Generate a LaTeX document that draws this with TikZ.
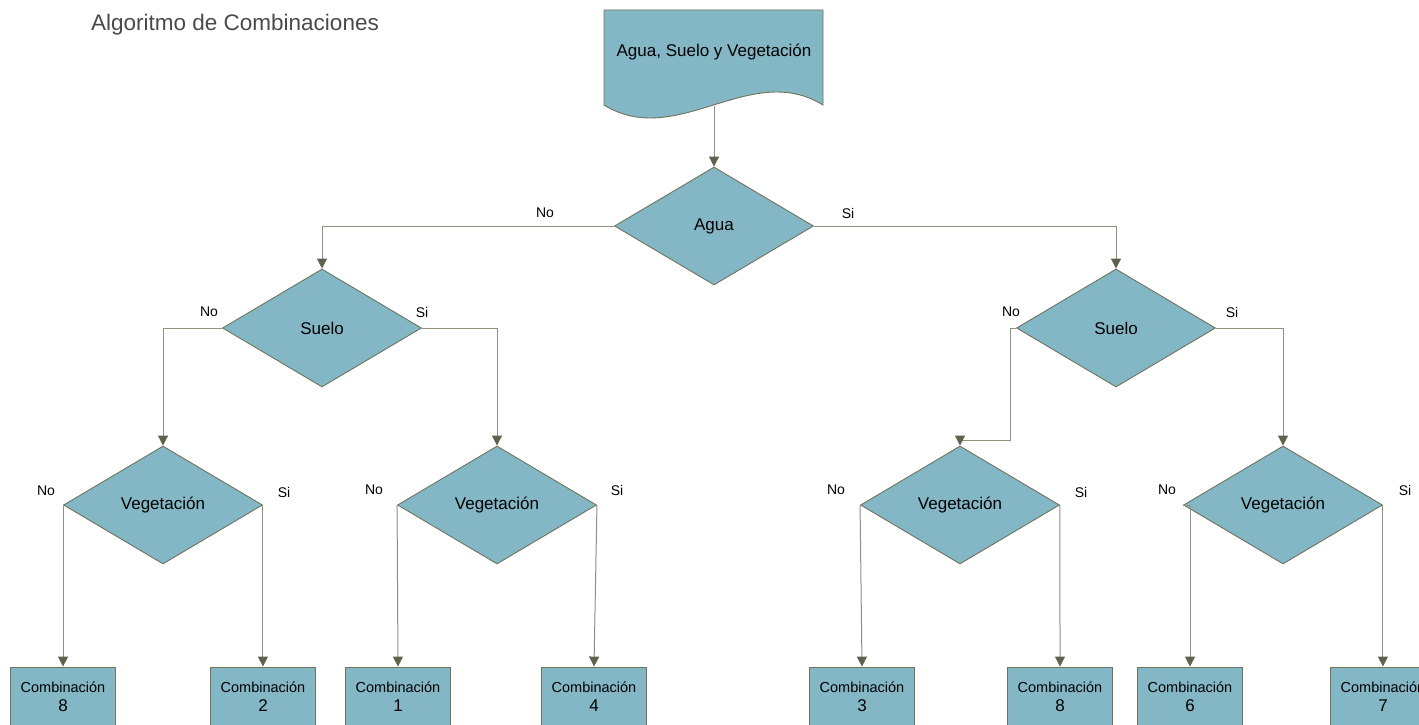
\documentclass[tikz,border=0pt]{standalone}
\usepackage{fontspec}
\setmainfont{Liberation Sans}
\usetikzlibrary{shapes.geometric,arrows.meta}
\definecolor{shapefill}{HTML}{84B7C6}
\definecolor{shapeline}{HTML}{6E735E}
\definecolor{wire}{HTML}{8F917F}
\definecolor{tipc}{HTML}{5F634E}
\definecolor{titlegray}{HTML}{4A4A4A}
\newcommand{\combo}[1]{Combinación\\{\fontsize{17}{19}\selectfont #1}}
\begin{document}
\begin{tikzpicture}[x=1pt,y=-1pt,
  decision/.style={diamond, draw=shapeline, fill=shapefill, line width=0.9pt,
    minimum width=199pt, minimum height=118pt, inner sep=0pt, aspect=1.69,
    font=\fontsize{17}{20}\selectfont},
  result/.style={rectangle, draw=shapeline, fill=shapefill, line width=0.9pt,
    minimum width=105pt, minimum height=60pt, inner sep=0pt, align=center,
    font=\fontsize{14.5}{19}\selectfont},
  wire/.style={draw=wire, line width=1pt,
    -{Triangle[width=10pt,length=10pt,color=tipc]}},
  lab/.style={font=\fontsize{14}{16}\selectfont, inner sep=0pt}]

% page
\useasboundingbox (0,0) rectangle (1419,725);
\fill[white] (0,0) rectangle (1419,725);
\clip (0,0) rectangle (1419,725);

% title
\node[anchor=base west, inner sep=0pt, text=titlegray,
      font=\fontsize{22.5}{26}\selectfont] (title) at (91,31) {Algoritmo de Combinaciones};

% input document
\draw[shapeline, fill=shapefill, line width=0.9pt]
  (604,10) -- (823,10) -- (823,105) .. controls (750,60) and (677,150) .. (604,105) -- cycle;
\node[font=\fontsize{17}{20}\selectfont, inner sep=0pt] (doc) at (714,52) {Agua, Suelo y Vegetación};
\coordinate (docbot) at (714,106);

% decisions
\node[decision] (agua)   at (714,226)  {Agua};
\node[decision] (sueloL) at (322,328)  {Suelo};
\node[decision] (sueloR) at (1116,328) {Suelo};
\node[decision] (vegA)   at (163,505)  {Vegetación};
\node[decision] (vegB)   at (497,505)  {Vegetación};
\node[decision] (vegC)   at (960,505)  {Vegetación};
\node[decision] (vegD)   at (1283,505) {Vegetación};

% results
\node[result] (b8a) at (63,697)   {\combo{8}};
\node[result] (b2)  at (263,697)  {\combo{2}};
\node[result] (b1)  at (398,697)  {\combo{1}};
\node[result] (b4)  at (594,697)  {\combo{4}};
\node[result] (b3)  at (862,697)  {\combo{3}};
\node[result] (b8b) at (1060,697) {\combo{8}};
\node[result] (b6)  at (1190,697) {\combo{6}};
\node[result] (b7)  at (1383,697) {\combo{7}};

% connectors
\draw[wire] (docbot) -- (agua.north);
\draw[wire] (agua.west) -| (sueloL.north);
\draw[wire] (agua.east) -| (sueloR.north);
\draw[wire] (sueloL.west) -| (vegA.north);
\draw[wire] (sueloL.east) -| (vegB.north);
\coordinate (kink) at (1010,440);
\draw[wire] (sueloR.west) -| (kink) -| (vegC.north);
\draw[wire] (sueloR.east) -| (vegD.north);

\draw[wire] (vegA.west) -- (vegA.west |- b8a.north);
\draw[wire] (vegA.east) -- (vegA.east |- b2.north);
\draw[wire] (vegB.west) -- (b1.north);
\draw[wire] (vegB.east) -- (b4.north);
\draw[wire] (vegC.west) -- (b3.north);
\draw[wire] (vegC.east) -- (b8b.north);
\draw[wire] (vegD.west) -| (b6.north);
\draw[wire] (vegD.east) -- (vegD.east |- b7.north);

% branch labels
\node[lab] (l1)  at (545,213)  {No};
\node[lab] (l2)  at (848,213)  {Si};
\node[lab] (l3)  at (209,312)  {No};
\node[lab] (l4)  at (422,312)  {Si};
\node[lab] (l5)  at (1011,312) {No};
\node[lab] (l6)  at (1232,312) {Si};
\node[lab] (l7)  at (46,491)   {No};
\node[lab] (l8)  at (284,492)  {Si};
\node[lab] (l9)  at (374,490)  {No};
\node[lab] (l10) at (617,490)  {Si};
\node[lab] (l11) at (836,490)  {No};
\node[lab] (l12) at (1081,492) {Si};
\node[lab] (l13) at (1167,490) {No};
\node[lab] (l14) at (1405,490) {Si};
\end{tikzpicture}
\end{document}
